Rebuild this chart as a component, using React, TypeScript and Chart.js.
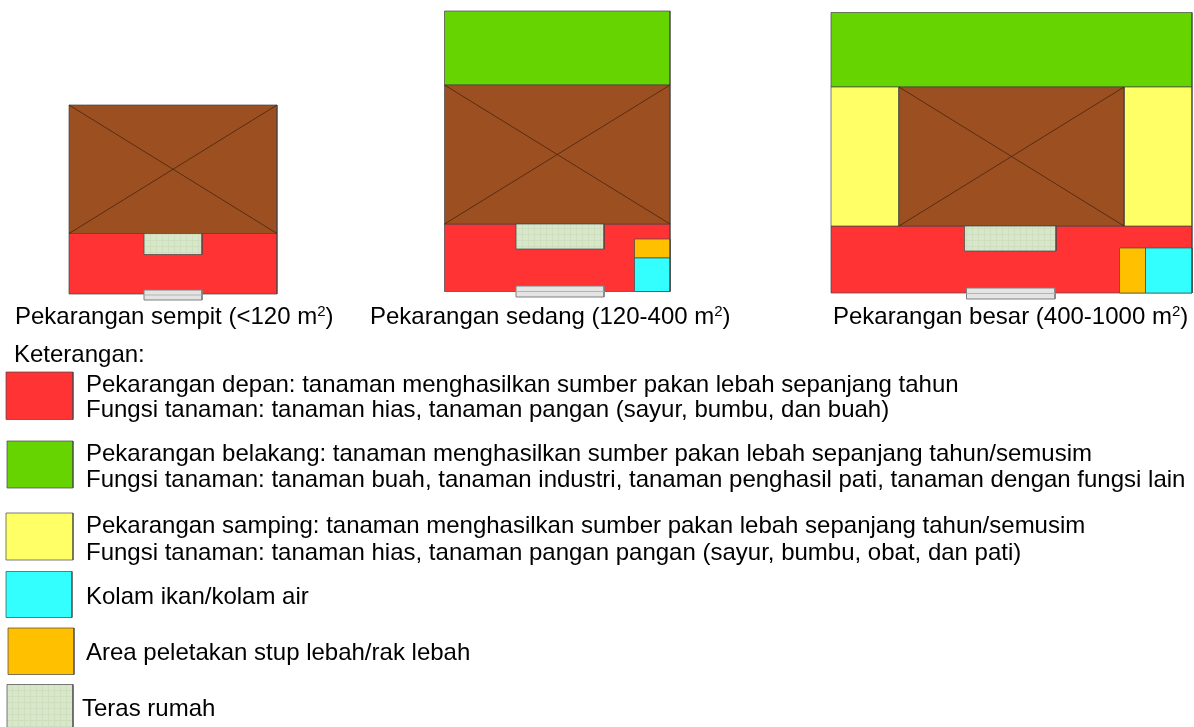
import React, { useEffect, useRef } from "react";
import { Chart, registerables } from "chart.js";

Chart.register(...registerables);

const WIDTH = 1194;
const HEIGHT = 727;
const FONT_SIZE = 24;

type Box = [number, number, number, number];

// Regions: [left, right, top, bottom] in plan units
const redRegions: Box[] = [[69, 277, 233.5, 294], [444.5, 670, 224, 291.5], [831, 1192, 226, 293], [6, 73, 372, 419.5]];
const greenRegions: Box[] = [[444.5, 670, 11, 85], [831, 1192, 12.5, 87], [7, 73, 441, 488]];
const yellowRegions: Box[] = [[831, 899, 87, 226], [1124, 1192, 87, 226], [6, 73, 513, 560]];
const cyanRegions: Box[] = [[634.5, 670, 258, 291.5], [1145.5, 1192, 248, 293], [6, 72, 571.5, 617.5]];
const orangeRegions: Box[] = [[634.5, 670, 239, 258], [1119.5, 1145.5, 248, 293], [8, 74, 628, 674.5]];
const terraceRegions: Box[] = [[144, 202, 233.5, 254.5], [516, 604, 224, 249], [964.5, 1056, 226, 251], [7, 73, 684.5, 732]];
const houseRegions: Box[] = [[69, 277, 105, 233.5], [444.5, 670, 85, 224], [899, 1124, 87, 226]];
const doorRegions: Box[] = [[144, 202, 290, 300], [516, 604, 286, 297], [966.5, 1055, 288, 299]];

const captions: [string, number, number][] = [
  ["Pekarangan sempit (<120 m", 15, 324],
  ["Pekarangan sedang (120-400 m", 370, 324],
  ["Pekarangan besar (400-1000 m", 833, 324],
];

const legendLines: [string, number, number][] = [
  ["Keterangan:", 14, 362],
  ["Pekarangan depan: tanaman menghasilkan sumber pakan lebah sepanjang tahun", 86, 392],
  ["Fungsi tanaman: tanaman hias, tanaman pangan (sayur, bumbu, dan buah)", 86, 417],
  ["Pekarangan belakang: tanaman menghasilkan sumber pakan lebah sepanjang tahun/semusim", 86, 461],
  ["Fungsi tanaman: tanaman buah, tanaman industri, tanaman penghasil pati, tanaman dengan fungsi lain", 86, 487],
  ["Pekarangan samping: tanaman menghasilkan sumber pakan lebah sepanjang tahun/semusim", 86, 533],
  ["Fungsi tanaman: tanaman hias, tanaman pangan pangan (sayur, bumbu, obat, dan pati)", 86, 560],
  ["Kolam ikan/kolam air", 86, 604],
  ["Area peletakan stup lebah/rak lebah", 86, 660],
  ["Teras rumah", 82, 716],
];

const outline = ([l, r, t, b]: Box) => [
  { x: l, y: t },
  { x: r, y: t },
  { x: r, y: b },
  { x: l, y: b },
  { x: l, y: t },
];

const boxes = (regions: Box[], fill: unknown, border: string) =>
  regions.map((box) => ({
    data: outline(box),
    showLine: true,
    fill: "shape",
    backgroundColor: fill,
    borderColor: border,
    borderWidth: 1,
    pointRadius: 0,
    tension: 0,
  }));

const crossLines = (regions: Box[]) =>
  regions.flatMap(([l, r, t, b]) =>
    [
      [{ x: l, y: t }, { x: r, y: b }],
      [{ x: r, y: t }, { x: l, y: b }],
    ].map((data) => ({
      data,
      showLine: true,
      fill: false,
      borderColor: "rgba(60,30,10,0.7)",
      borderWidth: 1,
      pointRadius: 0,
    })),
  );

const doorLines = (regions: Box[]) =>
  regions.map(([l, r, t, b]) => ({
    data: [{ x: l, y: (t + b) / 2 }, { x: r, y: (t + b) / 2 }],
    showLine: true,
    fill: false,
    borderColor: "#b4b4b4",
    borderWidth: 1,
    pointRadius: 0,
  }));

function gridPattern(): CanvasPattern | string {
  const tile = document.createElement("canvas");
  tile.width = 6;
  tile.height = 6;
  const c = tile.getContext("2d");
  if (!c) return "#d6e5c8";
  c.fillStyle = "#d8e6cb";
  c.fillRect(0, 0, 6, 6);
  c.fillStyle = "#cddfbd";
  c.fillRect(0, 0, 6, 1);
  c.fillRect(0, 0, 1, 6);
  return c.createPattern(tile, "repeat") ?? "#d6e5c8";
}

const textPlugin = {
  id: "diagramText",
  afterDatasetsDraw(chart: Chart) {
    const { ctx, scales } = chart;
    const font = `${FONT_SIZE}px "Liberation Sans", Arial, sans-serif`;
    ctx.save();
    ctx.fillStyle = "#000";
    ctx.textBaseline = "alphabetic";
    ctx.textAlign = "left";
    ctx.font = font;
    legendLines.forEach(([t, x, y]) => ctx.fillText(t, scales.x.getPixelForValue(x), scales.y.getPixelForValue(y)));
    captions.forEach(([t, x, y]) => {
      const px = scales.x.getPixelForValue(x);
      const py = scales.y.getPixelForValue(y);
      ctx.font = font;
      ctx.fillText(t, px, py);
      const w = ctx.measureText(t).width;
      ctx.font = `15px "Liberation Sans", Arial, sans-serif`;
      ctx.fillText("2", px + w, py - 8);
      const w2 = ctx.measureText("2").width;
      ctx.font = font;
      ctx.fillText(")", px + w + w2, py);
    });
    ctx.restore();
  },
};

export default function App() {
  const ref = useRef<HTMLCanvasElement>(null);
  useEffect(() => {
    if (!ref.current) return;
    const edge = "rgba(70,70,70,0.7)";
    // Listed bottom to top; Chart.js paints the first dataset last, so the list is reversed.
    const painted = [
      ...boxes(redRegions, "#ff3333", edge),
      ...boxes(greenRegions, "#66d400", edge),
      ...boxes(yellowRegions, "#ffff66", edge),
      ...boxes(houseRegions, "#9c4f20", edge),
      ...crossLines(houseRegions),
      ...boxes(terraceRegions, gridPattern(), edge),
      ...boxes(orangeRegions, "#ffc000", edge),
      ...boxes(cyanRegions, "#33ffff", edge),
      ...boxes(doorRegions, "#e4e4e4", "#7f7f7f"),
      ...doorLines(doorRegions),
    ];
    const chart = new Chart(ref.current, {
      type: "scatter",
      data: { datasets: painted.reverse() as never },
      options: {
        animation: false,
        responsive: false,
        layout: { padding: 0 },
        plugins: { legend: { display: false }, tooltip: { enabled: false }, title: { display: false } },
        scales: {
          x: { type: "linear", display: false, min: 0, max: WIDTH },
          y: { type: "linear", display: false, min: 0, max: HEIGHT, reverse: true },
        },
      },
      plugins: [textPlugin],
    });
    return () => chart.destroy();
  }, []);
  return (
    <div style={{ position: "fixed", left: 0, top: 0, width: WIDTH, height: HEIGHT, background: "#fff", overflow: "hidden" }}>
      <canvas ref={ref} width={WIDTH} height={HEIGHT} style={{ display: "block" }} />
    </div>
  );
}
